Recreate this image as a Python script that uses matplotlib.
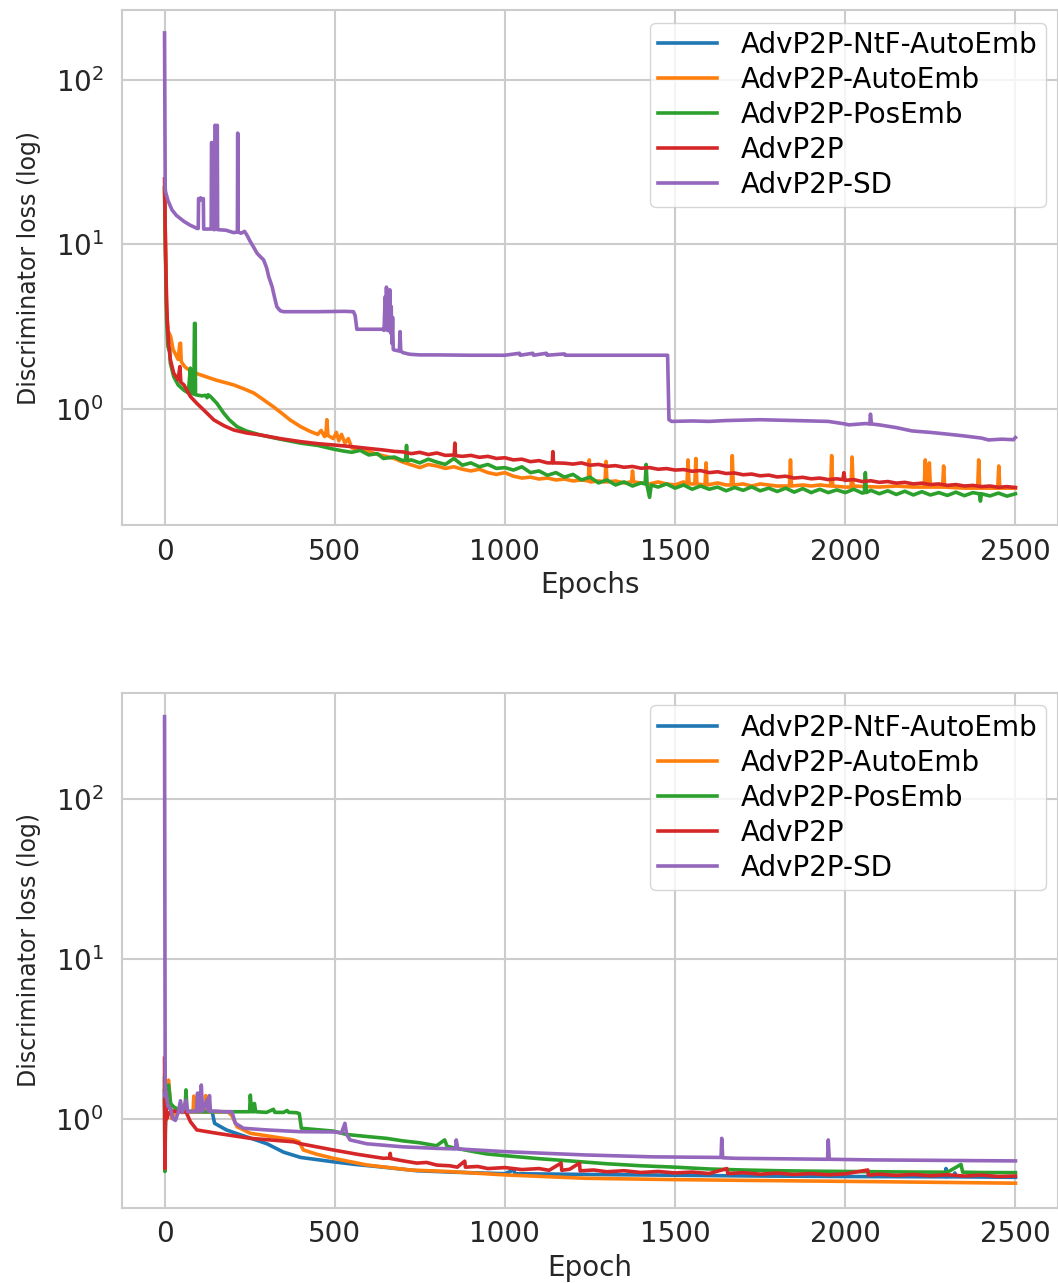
import matplotlib
matplotlib.use("Agg")
import matplotlib.pyplot as plt

# ── Series names / colours ────────────────────────────────────────────────────
LABELS = ["AdvP2P-NtF-AutoEmb", "AdvP2P-AutoEmb", "AdvP2P-PosEmb", "AdvP2P", "AdvP2P-SD"]
COLORS = ["#1f77b4", "#ff7f0e", "#2ca02c", "#d62728", "#9467bd"]
X_TICKS = [0, 500, 1000, 1500, 2000, 2500]

# ── Top panel ─────────────────────────────────────────────────────────────────
TOP_NTF_EPOCH = []
TOP_NTF_LOSS = []

TOP_AUTO_EPOCH = [0, 3, 6, 10, 18, 25, 40, 45, 47, 49, 60, 80, 106, 150, 203, 235, 262, 290, 320,
                  345, 369, 400, 428, 450, 460, 470, 474, 477, 480, 496, 505, 512, 520, 530, 540,
                  550, 575, 600, 625, 650, 675, 700, 721, 750, 775, 800, 825, 850, 875, 900, 925,
                  950, 975, 1000, 1025, 1050, 1075, 1100, 1125, 1150, 1175, 1200, 1225, 1245,
                  1248, 1251, 1275, 1294, 1297, 1300, 1325, 1350, 1372, 1375, 1378, 1400, 1425,
                  1450, 1475, 1500, 1525, 1535, 1538, 1541, 1558, 1561, 1564, 1588, 1591, 1594,
                  1625, 1650, 1665, 1668, 1671, 1700, 1725, 1750, 1775, 1800, 1836, 1839, 1842,
                  1875, 1900, 1925, 1957, 1960, 1963, 2000, 2017, 2020, 2023, 2050, 2100, 2150,
                  2200, 2232, 2235, 2238, 2244, 2247, 2250, 2286, 2289, 2292, 2350, 2389, 2392,
                  2395, 2448, 2451, 2454, 2500]
TOP_AUTO_LOSS = [22, 9, 4, 3.0, 2.75, 2.3, 2.0, 2.5, 2.51, 1.94, 1.8, 1.68, 1.61, 1.5, 1.40, 1.32,
                 1.25, 1.14, 1.03, 0.94, 0.857, 0.78, 0.73, 0.70, 0.74, 0.68, 0.69, 0.86, 0.69,
                 0.66, 0.72, 0.64, 0.70, 0.62, 0.66, 0.58, 0.565, 0.55, 0.53, 0.515, 0.50, 0.475,
                 0.46, 0.44, 0.46, 0.45, 0.435, 0.445, 0.43, 0.42, 0.43, 0.41, 0.40, 0.41, 0.39,
                 0.38, 0.385, 0.375, 0.38, 0.37, 0.375, 0.365, 0.37, 0.365, 0.49, 0.36, 0.365,
                 0.36, 0.48, 0.36, 0.365, 0.355, 0.36, 0.42, 0.36, 0.355, 0.35, 0.36, 0.35, 0.345,
                 0.36, 0.35, 0.49, 0.35, 0.35, 0.50, 0.35, 0.345, 0.47, 0.345, 0.355, 0.345,
                 0.345, 0.52, 0.345, 0.35, 0.34, 0.35, 0.345, 0.34, 0.34, 0.49, 0.34, 0.345, 0.34,
                 0.345, 0.34, 0.52, 0.34, 0.335, 0.335, 0.51, 0.34, 0.338, 0.335, 0.34, 0.335,
                 0.335, 0.49, 0.335, 0.335, 0.47, 0.335, 0.335, 0.45, 0.335, 0.33, 0.33, 0.49,
                 0.33, 0.33, 0.45, 0.33, 0.33]

TOP_POS_EPOCH = [0, 3, 6, 10, 13, 15, 17, 27, 40, 57, 70, 74, 76, 78, 86, 88, 90, 91, 110, 120,
                 125, 128, 135, 154, 174, 190, 213, 240, 281, 340, 399, 450, 496, 525, 550, 575,
                 600, 625, 643, 675, 700, 708, 711, 714, 725, 750, 775, 800, 825, 850, 875, 900,
                 925, 950, 975, 1000, 1025, 1050, 1075, 1100, 1125, 1150, 1175, 1200, 1225, 1250,
                 1275, 1300, 1325, 1350, 1375, 1400, 1412, 1415, 1418, 1425, 1430, 1450, 1475,
                 1500, 1525, 1550, 1575, 1600, 1625, 1650, 1675, 1700, 1725, 1750, 1775, 1800,
                 1825, 1850, 1875, 1900, 1925, 1950, 1975, 2000, 2025, 2050, 2056, 2059, 2062,
                 2075, 2100, 2125, 2150, 2175, 2200, 2225, 2250, 2275, 2300, 2325, 2350, 2375,
                 2394, 2397, 2400, 2425, 2450, 2475, 2500]
TOP_POS_LOSS = [22, 8, 3.5, 2.4, 2.28, 2.3, 1.9, 1.57, 1.40, 1.30, 1.25, 1.6, 1.77, 1.25, 1.23,
                3.31, 3.31, 1.22, 1.2, 1.21, 1.17, 1.22, 1.19, 1.08, 0.942, 0.86, 0.78, 0.735,
                0.695, 0.655, 0.62, 0.60, 0.57, 0.555, 0.545, 0.56, 0.525, 0.535, 0.50, 0.51,
                0.485, 0.49, 0.60, 0.485, 0.49, 0.47, 0.495, 0.475, 0.46, 0.50, 0.455, 0.47,
                0.445, 0.46, 0.435, 0.44, 0.425, 0.445, 0.41, 0.42, 0.395, 0.41, 0.385, 0.40,
                0.37, 0.385, 0.355, 0.37, 0.345, 0.36, 0.34, 0.355, 0.35, 0.46, 0.34, 0.29,
                0.345, 0.335, 0.35, 0.33, 0.345, 0.325, 0.34, 0.325, 0.335, 0.318, 0.333, 0.32,
                0.336, 0.318, 0.33, 0.315, 0.33, 0.312, 0.328, 0.31, 0.325, 0.31, 0.322, 0.31,
                0.325, 0.308, 0.31, 0.41, 0.31, 0.32, 0.305, 0.318, 0.302, 0.316, 0.30, 0.314,
                0.30, 0.31, 0.298, 0.312, 0.297, 0.31, 0.305, 0.275, 0.305, 0.296, 0.308, 0.295,
                0.305]

TOP_BASE_EPOCH = [0, 3, 6, 8, 12, 17, 27, 40, 45, 48, 57, 76, 95, 115, 145, 175, 203, 240, 281,
                  340, 399, 450, 496, 550, 600, 643, 675, 700, 725, 750, 775, 800, 825, 851, 853,
                  855, 875, 900, 925, 950, 975, 1000, 1025, 1050, 1075, 1100, 1125, 1139, 1141,
                  1143, 1175, 1200, 1225, 1250, 1275, 1300, 1325, 1350, 1375, 1400, 1425, 1450,
                  1475, 1500, 1525, 1550, 1575, 1600, 1625, 1650, 1675, 1700, 1725, 1750, 1775,
                  1800, 1825, 1850, 1875, 1900, 1925, 1950, 1975, 1993, 1996, 1999, 2025, 2050,
                  2075, 2100, 2125, 2150, 2175, 2200, 2225, 2250, 2275, 2300, 2325, 2350, 2375,
                  2400, 2425, 2450, 2475, 2500]
TOP_BASE_LOSS = [25, 9, 4.5, 3.47, 2.5, 2.0, 1.65, 1.5, 1.81, 1.45, 1.40, 1.19, 1.08, 0.986,
                 0.857, 0.79, 0.745, 0.715, 0.695, 0.66, 0.633, 0.615, 0.604, 0.59, 0.575, 0.563,
                 0.552, 0.548, 0.535, 0.545, 0.528, 0.540, 0.522, 0.525, 0.62, 0.52, 0.515,
                 0.522, 0.508, 0.515, 0.50, 0.505, 0.49, 0.495, 0.478, 0.485, 0.47, 0.47, 0.55,
                 0.47, 0.468, 0.462, 0.47, 0.455, 0.46, 0.448, 0.452, 0.442, 0.447, 0.436, 0.44,
                 0.43, 0.434, 0.425, 0.428, 0.418, 0.422, 0.41, 0.415, 0.405, 0.408, 0.398,
                 0.402, 0.392, 0.396, 0.386, 0.39, 0.38, 0.384, 0.376, 0.38, 0.372, 0.376, 0.372,
                 0.41, 0.368, 0.372, 0.362, 0.366, 0.358, 0.362, 0.354, 0.358, 0.35, 0.354,
                 0.347, 0.35, 0.343, 0.347, 0.34, 0.343, 0.337, 0.34, 0.334, 0.337, 0.333]

TOP_SD_EPOCH = [0, 2, 3, 10, 22, 35, 57, 75, 96, 99, 100, 104, 106, 110, 114, 115, 130, 137, 138,
                141, 144, 145, 147, 148, 152, 155, 156, 180, 203, 214, 215, 216, 225, 235, 242,
                252, 262, 272, 282, 291, 300, 306, 316, 325, 330, 340, 350, 450, 530, 555, 560,
                565, 640, 645, 648, 650, 652, 655, 658, 660, 662, 664, 666, 668, 670, 672, 675,
                690, 692, 694, 700, 720, 750, 800, 900, 1000, 1043, 1045, 1082, 1084, 1122, 1124,
                1175, 1177, 1300, 1400, 1478, 1482, 1490, 1550, 1600, 1650, 1700, 1750, 1800,
                1850, 1900, 1950, 2000, 2010, 2060, 2072, 2074, 2077, 2100, 2150, 2196, 2250,
                2294, 2350, 2400, 2421, 2460, 2494, 2500]
TOP_SD_LOSS = [193, 22, 20.9, 18.5, 16.2, 15.0, 13.8, 13.1, 12.5, 12.5, 19, 18.5, 19.2, 18.8, 19,
               12.4, 12.4, 12.4, 41.6, 41, 41.6, 12.3, 12.3, 53, 52, 53, 12.3, 12.2, 11.8, 11.9,
               47.5, 11.9, 11.7, 12.0, 11.4, 10.4, 9.6, 8.83, 8.4, 8.06, 7.2, 6.38, 5.54, 4.6,
               4.18, 3.95, 3.9, 3.9, 3.92, 3.9, 3.7, 3.05, 3.05, 3.0, 4.8, 3.2, 5.5, 3.0, 5.0,
               3.3, 5.3, 2.9, 4.2, 2.5, 3.6, 2.3, 2.28, 2.25, 2.95, 2.25, 2.2, 2.15, 2.13, 2.13,
               2.12, 2.12, 2.18, 2.12, 2.18, 2.12, 2.18, 2.12, 2.16, 2.12, 2.12, 2.12, 2.12,
               0.86, 0.84, 0.845, 0.84, 0.85, 0.855, 0.86, 0.855, 0.85, 0.845, 0.84, 0.81, 0.80,
               0.815, 0.81, 0.93, 0.81, 0.80, 0.77, 0.735, 0.72, 0.705, 0.685, 0.665, 0.648,
               0.655, 0.65, 0.67]

# ── Bottom panel ──────────────────────────────────────────────────────────────
BOT_NTF_EPOCH = [0, 1, 3, 6, 12, 20, 60, 100, 102, 106, 108, 140, 147, 182, 220, 252, 301, 350,
                 400, 496, 560, 643, 741, 850, 1000, 1026, 1030, 1250, 1500, 1750, 2000, 2294,
                 2296, 2298, 2320, 2322, 2325, 2500]
BOT_NTF_LOSS = [1.5, 0.6, 1.2, 1.4, 1.2, 1.12, 1.11, 1.11, 1.45, 1.45, 1.11, 1.11, 0.94, 0.854,
                0.80, 0.76, 0.70, 0.62, 0.575, 0.54, 0.52, 0.50, 0.475, 0.465, 0.455, 0.48, 0.455,
                0.45, 0.445, 0.44, 0.437, 0.435, 0.49, 0.435, 0.435, 0.46, 0.435, 0.432]

BOT_AUTO_EPOCH = [0, 2, 5, 12, 20, 35, 50, 84, 86, 89, 119, 121, 124, 128, 130, 133, 186, 198,
                  213, 252, 300, 379, 395, 408, 450, 496, 594, 721, 838, 1002, 1236, 1500, 1678,
                  2079, 2500]
BOT_AUTO_LOSS = [1.3, 0.9, 1.6, 1.75, 1.01, 1.14, 1.10, 1.11, 1.39, 1.11, 1.11, 1.40, 1.11, 1.11,
                 1.35, 1.11, 1.11, 1.05, 0.895, 0.814, 0.785, 0.74, 0.72, 0.64, 0.60, 0.568,
                 0.516, 0.48, 0.469, 0.447, 0.426, 0.418, 0.414, 0.406, 0.397]

BOT_POS_EPOCH = [0, 1, 3, 6, 12, 18, 27, 40, 60, 63, 66, 100, 200, 250, 252, 256, 262, 264, 268,
                 300, 320, 324, 350, 360, 365, 388, 396, 402, 496, 535, 600, 652, 700, 750, 799,
                 823, 830, 850, 900, 946, 1000, 1100, 1200, 1300, 1400, 1500, 1600, 1700, 1800,
                 1900, 2000, 2100, 2200, 2300, 2340, 2345, 2400, 2500]
BOT_POS_LOSS = [1.8, 0.47, 1.0, 1.6, 1.63, 1.25, 1.19, 1.15, 1.12, 1.52, 1.12, 1.11, 1.11, 1.11,
                1.41, 1.11, 1.11, 1.25, 1.11, 1.10, 1.15, 1.10, 1.10, 1.13, 1.10, 1.095, 1.08,
                0.875, 0.84, 0.80, 0.775, 0.757, 0.73, 0.71, 0.68, 0.74, 0.675, 0.66, 0.63, 0.605,
                0.59, 0.565, 0.545, 0.525, 0.51, 0.50, 0.487, 0.48, 0.475, 0.472, 0.47, 0.468,
                0.466, 0.465, 0.52, 0.465, 0.463, 0.462]

BOT_BASE_EPOCH = [0, 1, 3, 6, 12, 20, 63, 76, 95, 154, 252, 379, 400, 496, 570, 643, 661, 663,
                  665, 700, 741, 770, 800, 838, 860, 882, 884, 920, 950, 1000, 1050, 1100, 1130,
                  1165, 1167, 1190, 1219, 1221, 1260, 1300, 1350, 1400, 1450, 1500, 1550, 1600,
                  1652, 1655, 1700, 1750, 1800, 1850, 1900, 1950, 2000, 2066, 2068, 2100, 2150,
                  2200, 2250, 2300, 2350, 2400, 2450, 2500]
BOT_BASE_LOSS = [2.4, 0.49, 1.31, 1.0, 1.09, 1.12, 1.11, 0.962, 0.854, 0.814, 0.757, 0.72, 0.70,
                 0.64, 0.60, 0.568, 0.57, 0.61, 0.566, 0.548, 0.53, 0.535, 0.515, 0.51, 0.50,
                 0.545, 0.50, 0.505, 0.49, 0.497, 0.483, 0.49, 0.478, 0.53, 0.478, 0.485, 0.53,
                 0.474, 0.48, 0.468, 0.475, 0.463, 0.47, 0.46, 0.466, 0.456, 0.49, 0.456, 0.462,
                 0.452, 0.459, 0.45, 0.456, 0.448, 0.454, 0.48, 0.446, 0.452, 0.444, 0.45, 0.442,
                 0.448, 0.44, 0.446, 0.437, 0.44]

BOT_SD_EPOCH = [0, 2, 4, 10, 17, 25, 32, 40, 47, 52, 63, 68, 94, 97, 100, 104, 106, 108, 112,
                126, 129, 132, 135, 150, 175, 198, 208, 232, 301, 399, 496, 520, 530, 535, 545,
                594, 700, 800, 855, 857, 862, 1000, 1236, 1434, 1635, 1637, 1640, 1678, 1948,
                1950, 1953, 2079, 2500]
BOT_SD_LOSS = [327, 1.38, 1.5, 1.2, 1.17, 1.0, 0.98, 1.1, 1.30, 1.1, 1.31, 1.11, 1.12, 1.45, 1.12,
               1.45, 1.12, 1.63, 1.12, 1.33, 1.12, 1.40, 1.12, 1.12, 1.11, 1.11, 0.94, 0.875,
               0.854, 0.833, 0.83, 0.82, 0.94, 0.80, 0.74, 0.70, 0.67, 0.655, 0.65, 0.74, 0.65,
               0.625, 0.596, 0.58, 0.575, 0.757, 0.572, 0.568, 0.56, 0.74, 0.56, 0.555, 0.547]

TOP_YLIM = (0.197, 266)
BOT_YLIM = (0.278, 460)


def style_axes(ax, ylim, xlabel):
    ax.set_yscale("log")
    ax.set_xlim(-125, 2625)
    ax.set_ylim(*ylim)
    ax.set_xticks(X_TICKS)
    ax.minorticks_off()
    ax.grid(True, color="#cccccc", linewidth=1.5)
    ax.set_axisbelow(True)
    for sp in ax.spines.values():
        sp.set_color("#cccccc")
        sp.set_linewidth(1.5)
    ax.tick_params(axis="both", length=0, labelsize=20, colors="#262626")
    ax.tick_params(axis="x", pad=9)
    ax.tick_params(axis="y", pad=13)
    ax.set_xlabel(xlabel, fontsize=20, color="#262626", labelpad=4)
    ax.set_ylabel("Discriminator loss (log)", fontsize=17, color="#262626", labelpad=10)
    ax.legend(loc="upper right", fontsize=20, frameon=True, edgecolor="#cccccc",
              fancybox=True, framealpha=0.8, borderaxespad=0.45, borderpad=0.3,
              labelspacing=0.25, handlelength=2.1, handletextpad=0.85)


def draw_panel(ax, series, ylim, xlabel):
    for (ep, loss), label, color in zip(series, LABELS, COLORS):
        ax.plot(ep, loss, color=color, linewidth=2.6, label=label)
    style_axes(ax, ylim, xlabel)


fig = plt.figure(figsize=(10.58, 12.83), dpi=100)
ax_top = fig.add_axes([0.1153, 0.5908, 0.8847, 0.4014])
ax_bot = fig.add_axes([0.1153, 0.0585, 0.8847, 0.4014])

draw_panel(ax_top, [(TOP_NTF_EPOCH, TOP_NTF_LOSS), (TOP_AUTO_EPOCH, TOP_AUTO_LOSS),
                    (TOP_POS_EPOCH, TOP_POS_LOSS), (TOP_BASE_EPOCH, TOP_BASE_LOSS),
                    (TOP_SD_EPOCH, TOP_SD_LOSS)], TOP_YLIM, "Epochs")
draw_panel(ax_bot, [(BOT_NTF_EPOCH, BOT_NTF_LOSS), (BOT_AUTO_EPOCH, BOT_AUTO_LOSS),
                    (BOT_POS_EPOCH, BOT_POS_LOSS), (BOT_BASE_EPOCH, BOT_BASE_LOSS),
                    (BOT_SD_EPOCH, BOT_SD_LOSS)], BOT_YLIM, "Epoch")

fig.savefig("out.png", dpi=100)
plt.close(fig)
